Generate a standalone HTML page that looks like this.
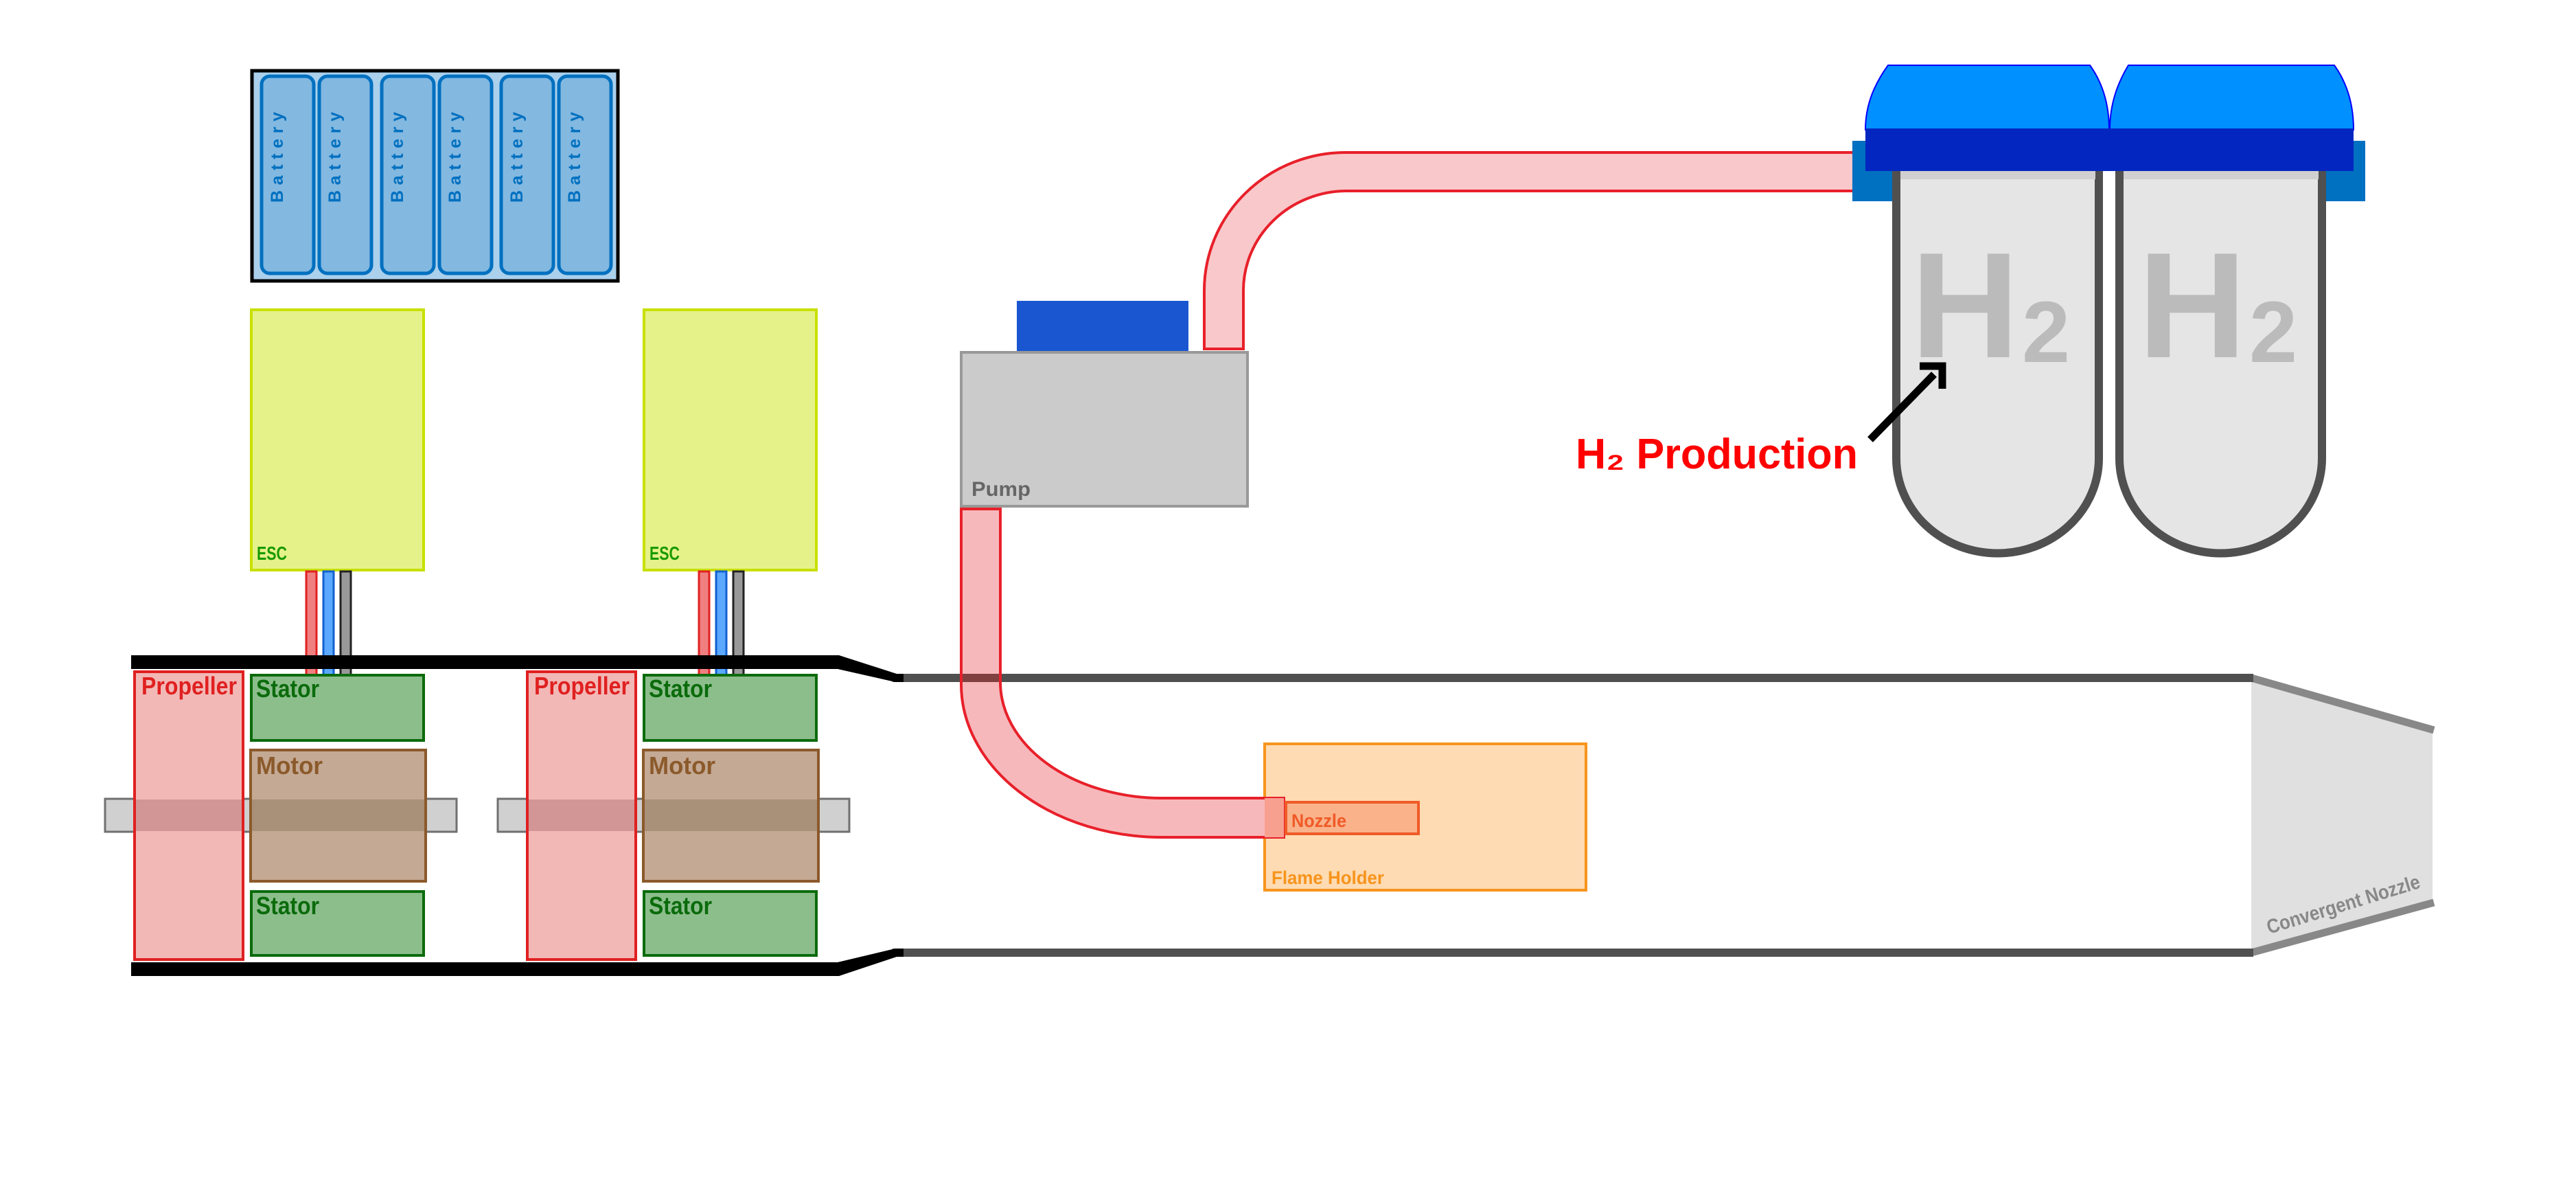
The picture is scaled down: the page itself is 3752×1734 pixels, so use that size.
<!DOCTYPE html>
<html><head><meta charset="utf-8"><style>
html,body{margin:0;padding:0;background:#fff;}
svg{display:block;}
text{font-family:"Liberation Sans",sans-serif;font-weight:bold;}
</style></head><body>
<svg width="3752" height="1734" viewBox="0 0 3752 1734" xmlns="http://www.w3.org/2000/svg">
<!-- Battery pack -->
<rect x="367" y="103" width="533" height="306" fill="#aad0ec" stroke="#000" stroke-width="5"/>
<g fill="#83b8e0" stroke="#0070c0" stroke-width="5">
<rect x="381" y="111" width="76" height="287" rx="12"/>
<rect x="465" y="111" width="76" height="287" rx="12"/>
<rect x="556" y="111" width="76" height="287" rx="12"/>
<rect x="640" y="111" width="76" height="287" rx="12"/>
<rect x="730" y="111" width="76" height="287" rx="12"/>
<rect x="814" y="111" width="76" height="287" rx="12"/>
</g>
<g fill="#0070c0" font-size="25">
<text transform="translate(412,295) rotate(-90)" textLength="132" lengthAdjust="spacing">Battery</text>
<text transform="translate(496,295) rotate(-90)" textLength="132" lengthAdjust="spacing">Battery</text>
<text transform="translate(587,295) rotate(-90)" textLength="132" lengthAdjust="spacing">Battery</text>
<text transform="translate(671,295) rotate(-90)" textLength="132" lengthAdjust="spacing">Battery</text>
<text transform="translate(761,295) rotate(-90)" textLength="132" lengthAdjust="spacing">Battery</text>
<text transform="translate(845,295) rotate(-90)" textLength="132" lengthAdjust="spacing">Battery</text>
</g>
<!-- ESCs -->
<rect x="366" y="451" width="251" height="379" fill="#e5f28a" stroke="#c8e000" stroke-width="4"/>
<rect x="938" y="451" width="251" height="379" fill="#e5f28a" stroke="#c8e000" stroke-width="4"/>
<text x="374" y="815" fill="#1a9a00" font-size="28" textLength="44" lengthAdjust="spacingAndGlyphs">ESC</text>
<text x="946" y="815" fill="#1a9a00" font-size="28" textLength="44" lengthAdjust="spacingAndGlyphs">ESC</text>
<!-- wires -->
<g stroke-width="3">
<rect x="446" y="832" width="15" height="152" fill="#f08080" stroke="#e02020"/>
<rect x="471" y="832" width="15" height="152" fill="#5aa8ff" stroke="#1060d0"/>
<rect x="496" y="832" width="15" height="152" fill="#999" stroke="#222"/>
<rect x="1018" y="832" width="15" height="152" fill="#f08080" stroke="#e02020"/>
<rect x="1043" y="832" width="15" height="152" fill="#5aa8ff" stroke="#1060d0"/>
<rect x="1068" y="832" width="15" height="152" fill="#999" stroke="#222"/>
</g>
<!-- Combustor nozzle -->
<polygon points="3279,987 3543,1062 3543,1315 3279,1387" fill="#e0e0e0"/>
<line x1="3279" y1="987" x2="3545" y2="1063" stroke="#888" stroke-width="11"/>
<line x1="3279" y1="1387" x2="3545" y2="1314" stroke="#888" stroke-width="11"/>
<text transform="translate(3305,1360) rotate(-17)" fill="#888" font-size="29" textLength="232" lengthAdjust="spacingAndGlyphs">Convergent Nozzle</text>
<!-- walls -->
<line x1="1300" y1="987" x2="3282" y2="987" stroke="#505050" stroke-width="12"/>
<line x1="1300" y1="1387" x2="3282" y2="1387" stroke="#505050" stroke-width="12"/>
<polygon points="191,954 1222,954 1306,981 1316,981 1316,993 1304,993 1220,974 191,974" fill="#000"/>
<polygon points="191,1401 1220,1401 1304,1381 1316,1381 1316,1393 1306,1393 1222,1421 191,1421" fill="#000"/>
<!-- Flame holder -->
<rect x="1842" y="1083" width="468" height="213" fill="#fedbb2" stroke="#f7941d" stroke-width="4"/>
<text x="1852" y="1287" fill="#f7941d" font-size="27" textLength="164" lengthAdjust="spacingAndGlyphs">Flame Holder</text>
<!-- lower pipe -->
<path d="M1400,741 L1400,993 A293,223 0 0 0 1693,1219 L1870,1219 L1870,1162 L1693,1162 A236,169 0 0 1 1457,993 L1457,741 Z" fill="#f7b8bb" stroke="#e8202a" stroke-width="4"/>
<rect x="1402" y="981" width="53" height="12" fill="#804040"/>
<rect x="1842" y="1162" width="28" height="57" fill="#f7a090"/>
<!-- nozzle -->
<rect x="1873" y="1168" width="193" height="46" fill="#f9b28a" stroke="#f05a28" stroke-width="4"/>
<text x="1881" y="1204" fill="#f05a28" font-size="27" textLength="80" lengthAdjust="spacingAndGlyphs">Nozzle</text>
<!-- Pump -->
<rect x="1481" y="438" width="250" height="75" fill="#1a56d0"/>
<rect x="1400" y="513" width="417" height="224" fill="#cbcbcb" stroke="#999" stroke-width="4"/>
<text x="1415" y="722" fill="#666" font-size="30" textLength="86" lengthAdjust="spacingAndGlyphs">Pump</text>
<!-- upper pipe -->
<path d="M1754,508 L1754,423 A206,201 0 0 1 1960,222 L2700,222 L2700,278 L1960,278 A151,145 0 0 0 1811,423 L1811,508 Z" fill="#f9c8ca" stroke="#e8202a" stroke-width="4"/>
<!-- Tanks -->
<rect x="2698" y="205" width="60" height="88" fill="#0070c0"/>
<rect x="3386" y="205" width="59" height="88" fill="#0070c0"/>
<path d="M2762,250 L2762,667 A147,138 0 0 0 3057,667 L3057,250 Z" fill="#e5e5e5" stroke="#505050" stroke-width="12"/>
<path d="M3087,250 L3087,667 A147,138 0 0 0 3382,667 L3382,250 Z" fill="#e5e5e5" stroke="#505050" stroke-width="12"/>
<rect x="2768" y="249" width="284" height="12" fill="#d0d0d0"/>
<rect x="3093" y="249" width="284" height="12" fill="#d0d0d0"/>
<path d="M2717,189 C2717,150 2732,120 2750,95 L3044,95 C3062,120 3072,150 3072,189 Z" fill="#0090ff" stroke="#0000ff" stroke-width="2"/>
<path d="M3073,189 C3073,150 3085,120 3100,95 L3400,95 C3418,120 3428,150 3428,189 Z" fill="#0090ff" stroke="#0000ff" stroke-width="2"/>
<rect x="2717" y="187" width="711" height="62" fill="#0326c0"/>
<g fill="#bbbbbb">
<text x="2783" y="520" font-size="219">H</text>
<text x="2945" y="527" font-size="126">2</text>
<text x="3114" y="520" font-size="219">H</text>
<text x="3276" y="527" font-size="126">2</text>
</g>
<!-- arrow -->
<line x1="2724" y1="640" x2="2817" y2="545" stroke="#000" stroke-width="11"/>
<polyline points="2796,533 2829,533 2829,566" fill="none" stroke="#000" stroke-width="11"/>
<text x="2295" y="682" fill="#ff0000" font-size="62" textLength="411" lengthAdjust="spacingAndGlyphs">H₂ Production</text>
<!-- Motor groups -->
<g>
<rect x="153" y="1163" width="512" height="48" fill="#d0d0d0" stroke="#707070" stroke-width="3"/>
<rect x="196" y="978" width="158" height="419" fill="#f2b8b6" stroke="#e02020" stroke-width="4"/>
<rect x="198" y="1164" width="154" height="46" fill="#d29696"/>
<rect x="366" y="983" width="251" height="95" fill="#8cbe8c" stroke="#0b6b0b" stroke-width="4"/>
<rect x="365" y="1092" width="255" height="191" fill="#c4a994" stroke="#8b5a2b" stroke-width="4"/>
<rect x="367" y="1164" width="251" height="46" fill="#a89079"/>
<rect x="366" y="1298" width="251" height="93" fill="#8cbe8c" stroke="#0b6b0b" stroke-width="4"/>
<text x="206" y="1011" fill="#e02020" font-size="36" textLength="139" lengthAdjust="spacingAndGlyphs">Propeller</text>
<text x="373" y="1015" fill="#0b6b0b" font-size="36" textLength="92" lengthAdjust="spacingAndGlyphs">Stator</text>
<text x="373" y="1127" fill="#8b5a2b" font-size="36" textLength="97" lengthAdjust="spacingAndGlyphs">Motor</text>
<text x="373" y="1331" fill="#0b6b0b" font-size="36" textLength="92" lengthAdjust="spacingAndGlyphs">Stator</text>
</g>
<g transform="translate(572,0)">
<rect x="153" y="1163" width="512" height="48" fill="#d0d0d0" stroke="#707070" stroke-width="3"/>
<rect x="196" y="978" width="158" height="419" fill="#f2b8b6" stroke="#e02020" stroke-width="4"/>
<rect x="198" y="1164" width="154" height="46" fill="#d29696"/>
<rect x="366" y="983" width="251" height="95" fill="#8cbe8c" stroke="#0b6b0b" stroke-width="4"/>
<rect x="365" y="1092" width="255" height="191" fill="#c4a994" stroke="#8b5a2b" stroke-width="4"/>
<rect x="367" y="1164" width="251" height="46" fill="#a89079"/>
<rect x="366" y="1298" width="251" height="93" fill="#8cbe8c" stroke="#0b6b0b" stroke-width="4"/>
<text x="206" y="1011" fill="#e02020" font-size="36" textLength="139" lengthAdjust="spacingAndGlyphs">Propeller</text>
<text x="373" y="1015" fill="#0b6b0b" font-size="36" textLength="92" lengthAdjust="spacingAndGlyphs">Stator</text>
<text x="373" y="1127" fill="#8b5a2b" font-size="36" textLength="97" lengthAdjust="spacingAndGlyphs">Motor</text>
<text x="373" y="1331" fill="#0b6b0b" font-size="36" textLength="92" lengthAdjust="spacingAndGlyphs">Stator</text>
</g>
</svg>
</body></html>
